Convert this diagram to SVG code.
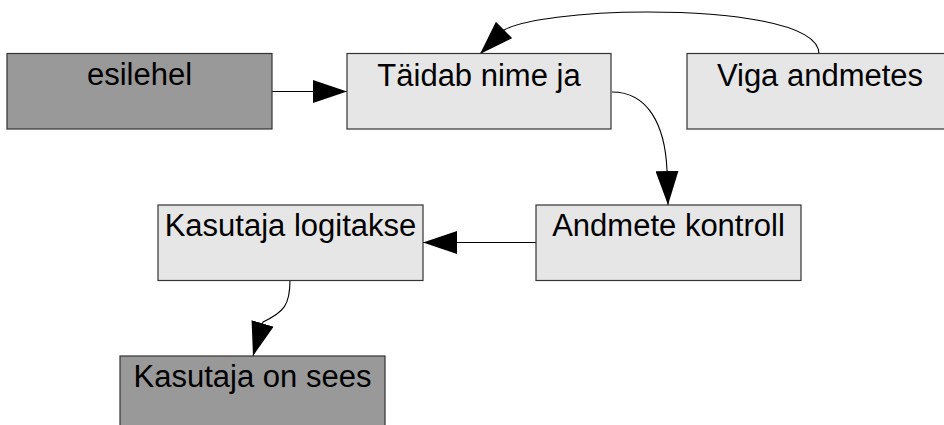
<svg xmlns="http://www.w3.org/2000/svg" width="944" height="425" viewBox="0 0 944 425">
  <style>
    .box { stroke: #333333; stroke-width: 1.2; }
    .light { fill: #e6e6e6; }
    .dark { fill: #999999; }
    .label { font-family: "Liberation Sans", Arial, sans-serif; font-size: 31px; fill: #000000; text-anchor: middle; }
    .conn { fill: none; stroke: #000000; stroke-width: 1.1; marker-end: url(#arrow); }
  </style>
  <defs>
    <marker id="arrow" viewBox="0 0 34 23" refX="34" refY="11.5" markerWidth="34" markerHeight="23" markerUnits="userSpaceOnUse" orient="auto">
      <path d="M0,0 L34,11.5 L0,23 Z" fill="#000000"/>
    </marker>
  </defs>
  <rect width="944" height="425" fill="#ffffff"/>

  <g id="connectors">
    <path class="conn" d="M272,91.5 L347,91.5"/>
    <path class="conn" d="M819,54 C819,22 725,12 647,12 C580,12 522,20 504,30 L480,54"/>
    <path class="conn" d="M612,92 C648,92 665,125 667,170 L668,205"/>
    <path class="conn" d="M536,242.5 L423,242.5"/>
    <path class="conn" d="M290,280 C290,305 284,312 263,322 L253,356"/>
  </g>

  <g id="esilehel">
    <rect class="box dark" x="7" y="53.5" width="265" height="75.5"/>
    <text class="label" x="139.5" y="85">esilehel</text>
  </g>
  <g id="taidab">
    <rect class="box light" x="347" y="53.5" width="264" height="75.5"/>
    <text class="label" x="479" y="86">Täidab nime ja</text>
  </g>
  <g id="viga">
    <rect class="box light" x="687" y="53.5" width="265" height="75.5"/>
    <text class="label" x="820" y="86">Viga andmetes</text>
  </g>
  <g id="kontroll">
    <rect class="box light" x="536" y="205" width="265" height="75.5"/>
    <text class="label" x="668.5" y="236">Andmete kontroll</text>
  </g>
  <g id="logitakse">
    <rect class="box light" x="158" y="205" width="265" height="75.5"/>
    <text class="label" x="290.5" y="236">Kasutaja logitakse</text>
  </g>
  <g id="sees">
    <rect class="box dark" x="120" y="356" width="265" height="75.5"/>
    <text class="label" x="252.5" y="387">Kasutaja on sees</text>
  </g>
</svg>
